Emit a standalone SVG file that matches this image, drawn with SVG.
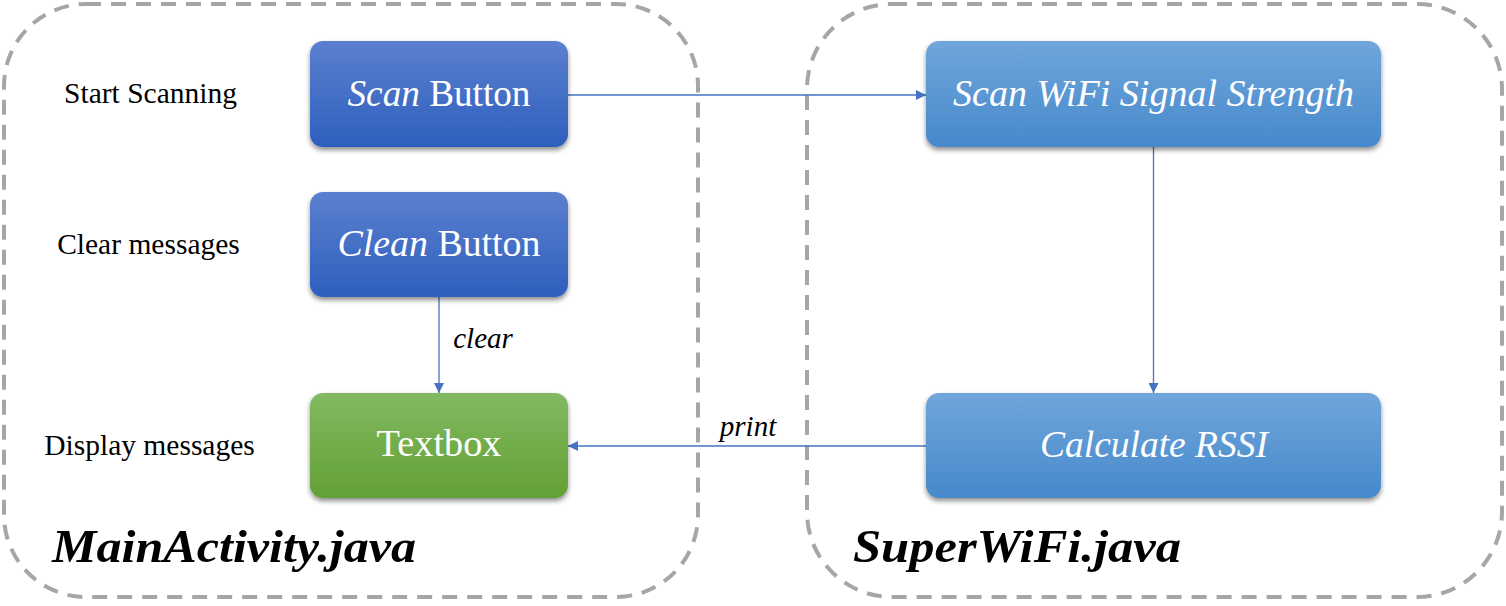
<svg xmlns="http://www.w3.org/2000/svg" width="1506" height="606" viewBox="0 0 1506 606">
<style>
.container{fill:none;stroke:#a6a6a6;stroke-width:4;stroke-dasharray:15 10}
.conn{stroke:#4472c4;stroke-width:1.3;fill:none}
.lbl{font-family:"Liberation Serif",serif;font-size:29.5px;fill:#000;text-anchor:middle}
.btn{font-family:"Liberation Serif",serif;font-size:37px;fill:#fff;text-anchor:middle}
.edge{font-family:"Liberation Serif",serif;font-size:29px;font-style:italic;fill:#000;text-anchor:middle}
.title{font-family:"Liberation Serif",serif;font-size:46px;font-style:italic;font-weight:bold;fill:#000}
</style>
<defs>
<linearGradient id="gBlue" x1="0" y1="0" x2="0" y2="1"><stop offset="0" stop-color="#5b80cf"/><stop offset="1" stop-color="#2e5fbd"/></linearGradient>
<linearGradient id="gLight" x1="0" y1="0" x2="0" y2="1"><stop offset="0" stop-color="#70a6dc"/><stop offset="1" stop-color="#4689cb"/></linearGradient>
<linearGradient id="gGreen" x1="0" y1="0" x2="0" y2="1"><stop offset="0" stop-color="#82b962"/><stop offset="1" stop-color="#62a134"/></linearGradient>
<filter id="sh" x="-10%" y="-10%" width="120%" height="130%"><feDropShadow dx="0" dy="3" stdDeviation="2.5" flood-color="#000" flood-opacity="0.45"/></filter>
<marker id="arr" viewBox="0 0 10 10" refX="10" refY="5" markerWidth="10" markerHeight="10" markerUnits="userSpaceOnUse" orient="auto"><path d="M0,0 L10,5 L0,10 z" fill="#4472c4"/></marker>
</defs>
<g id="containers">
<rect id="mainActivityContainer" class="container" x="4" y="4" width="694" height="593" rx="82" ry="82"/>
<rect id="superWiFiContainer" class="container" x="807" y="4" width="695" height="593" rx="85" ry="85"/>
</g>
<g id="connectors">
<line class="conn" x1="568" y1="95" x2="926" y2="95" marker-end="url(#arr)"/>
<line class="conn" x1="1153.5" y1="147" x2="1153.5" y2="393" marker-end="url(#arr)"/>
<line class="conn" x1="926" y1="446" x2="568" y2="446" marker-end="url(#arr)"/>
<line class="conn" x1="439" y1="297" x2="439" y2="393" marker-end="url(#arr)"/>
<text class="edge" x="483" y="348">clear</text>
<text class="edge" x="748" y="436">print</text>
</g>
<g id="labels">
<text class="lbl" x="150.5" y="103">Start Scanning</text>
<text class="lbl" x="148.5" y="254">Clear messages</text>
<text class="lbl" x="149.5" y="455">Display messages</text>
</g>
<g id="scanButton">
<rect x="310" y="41" width="258" height="106" rx="13" fill="url(#gBlue)" filter="url(#sh)"/>
<text class="btn" x="439" y="106" textLength="183" lengthAdjust="spacingAndGlyphs"><tspan font-style="italic">Scan</tspan> Button</text>
</g>
<g id="cleanButton">
<rect x="310" y="192" width="258" height="105" rx="13" fill="url(#gBlue)" filter="url(#sh)"/>
<text class="btn" x="439" y="256" textLength="203" lengthAdjust="spacingAndGlyphs"><tspan font-style="italic">Clean</tspan> Button</text>
</g>
<g id="textbox">
<rect x="310" y="393" width="258" height="105" rx="13" fill="url(#gGreen)" filter="url(#sh)"/>
<text class="btn" x="439" y="456" textLength="125" lengthAdjust="spacingAndGlyphs">Textbox</text>
</g>
<g id="scanWiFi">
<rect x="926" y="41" width="455" height="106" rx="13" fill="url(#gLight)" filter="url(#sh)"/>
<text class="btn" x="1153.5" y="106" font-style="italic" textLength="401" lengthAdjust="spacingAndGlyphs">Scan WiFi Signal Strength</text>
</g>
<g id="calculateRSSI">
<rect x="926" y="393" width="455" height="105" rx="13" fill="url(#gLight)" filter="url(#sh)"/>
<text class="btn" x="1154" y="457" font-style="italic" textLength="228" lengthAdjust="spacingAndGlyphs">Calculate RSSI</text>
</g>
<g id="titles">
<text class="title" x="52" y="562" textLength="364" lengthAdjust="spacingAndGlyphs">MainActivity.java</text>
<text class="title" x="853" y="562" textLength="328" lengthAdjust="spacingAndGlyphs">SuperWiFi.java</text>
</g>
</svg>
